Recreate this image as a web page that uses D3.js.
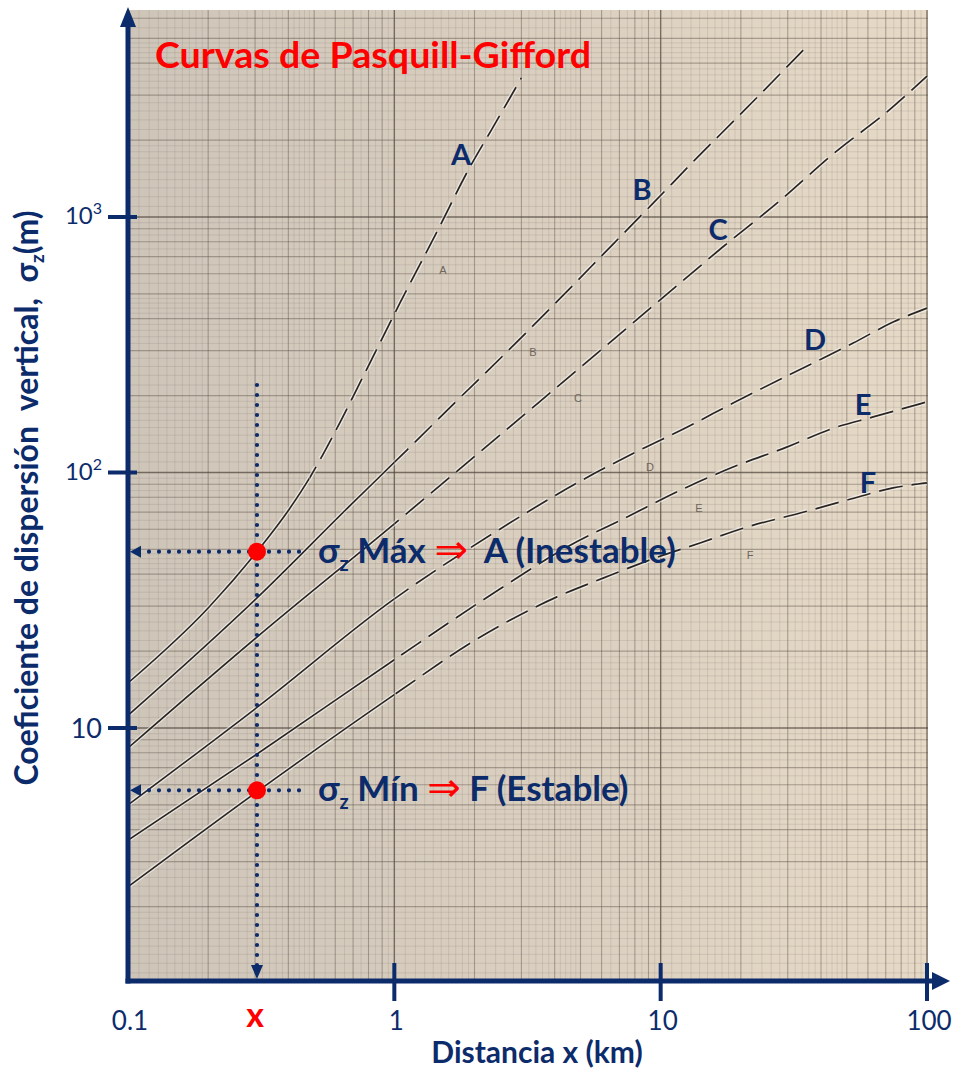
<!DOCTYPE html>
<html>
<head>
<meta charset="utf-8">
<script src="https://cdn.jsdelivr.net/npm/d3@7"></script>
<style>
  html, body { margin: 0; padding: 0; background: #fff; }
  svg { display: block; }
  text { font-family: Lato, "Open Sans", sans-serif; }
</style>
</head>
<body>
<div id="chart"></div>
<script>
// Pasquill-Gifford vertical dispersion curves
// each pair is [distance x (km), sigma z (m)]
const classes = ["A", "B", "C", "D", "E", "F"];
const sigmaA = [[0.1, 15], [0.2, 29.5], [0.305, 49], [0.4, 71], [0.48, 95], [0.59, 140], [0.79, 255],
  [1.05, 461], [1.44, 868], [1.92, 1565], [2.29, 2150], [3.0, 3500]];
const sigmaB = [[0.1, 11.2], [0.305, 32.3], [0.68, 74], [1.12, 123], [1.77, 197], [2.65, 297],
  [4.19, 480], [6.6, 780], [9.35, 1130], [13.5, 1680], [19.9, 2520], [28, 3620], [34.3, 4500]];
const sigmaC = [[0.1, 8.35], [0.305, 22.7], [1, 63], [2.29, 130], [4.08, 216], [7.87, 385],
  [12.4, 575], [17.1, 763], [27.4, 1135], [45.9, 1815], [70.8, 2580], [100, 3560]];
const sigmaD = [[0.1, 5.0], [0.31, 12.2], [1, 32], [2.49, 60], [4.85, 91], [8.37, 122.5],
  [12.6, 150.7], [18.7, 187], [37.3, 268], [52.8, 321], [74.6, 388], [100, 440]];
const sigmaE = [[0.1, 3.64], [0.31, 8.0], [1, 18.5], [2.49, 35], [4.45, 51.1], [7.48, 67],
  [12.6, 87.8], [18.7, 105], [29.9, 126], [44.4, 149], [62.8, 165], [100, 189]];
const sigmaF = [[0.1, 2.39], [0.31, 5.7], [1, 13.5], [2, 22], [4.08, 32.6], [6.08, 38.6], [9.12, 45.5],
  [14.06, 53], [21.1, 61.2], [33.4, 69.4], [50.1, 78], [74.6, 87], [100, 91]];
const series = [sigmaA, sigmaB, sigmaC, sigmaD, sigmaE, sigmaF];
// distance (km) up to which each curve is drawn solid, dashed beyond
const solidUpTo = [0.48, 1, 1, 1, 1, 1];

const xTicks = [0.1, 1, 10, 100];
const xTickLabels = ["0.1", "1", "10", "100"];
const yTicks = [10, 100, 1000];
const yTickLabels = [["10", ""], ["10", "2"], ["10", "3"]];

// the worked example: distance x, max (class A) and min (class F) sigma z
const markerX = 0.305;
const sigmaMax = 49;
const sigmaMin = 5.7;

const width = 954, height = 1072;
const navy = "#0c2b6b", red = "#ff0000", ink = "#2a2521";

const x = d3.scaleLog().domain([0.1, 100]).range([128, 927]);
const y = d3.scaleLog().domain([1, 1000]).range([983.5, 217]);

const paper = {left: 128, right: 928, top: 10, bottom: 982};

const svg = d3.select("#chart").append("svg")
  .attr("width", width)
  .attr("height", height)
  .attr("viewBox", [0, 0, width, height]);

const defs = svg.append("defs");
const grad = defs.append("linearGradient").attr("id", "paperGrad");
grad.append("stop").attr("offset", "0%").attr("stop-color", "#cec5b9");
grad.append("stop").attr("offset", "55%").attr("stop-color", "#dbd0c0");
grad.append("stop").attr("offset", "100%").attr("stop-color", "#e6d9c6");

defs.append("clipPath").attr("id", "paperClip")
  .append("rect")
  .attr("x", paper.left).attr("y", paper.top)
  .attr("width", paper.right - paper.left).attr("height", paper.bottom - paper.top);

// graph paper
svg.append("rect")
  .attr("x", paper.left).attr("y", paper.top)
  .attr("width", paper.right - paper.left).attr("height", paper.bottom - paper.top)
  .attr("fill", "url(#paperGrad)");

function decadeSteps(d) {
  const v = [];
  for (let i = 10; i < 20; i++) v.push({v: d * i / 10, k: i === 10 ? 2 : 0});
  for (let i = 20; i < 50; i += 2) v.push({v: d * i / 10, k: i % 10 === 0 ? 1 : 0});
  for (let i = 50; i < 100; i += 5) v.push({v: d * i / 10, k: i % 10 === 0 ? 1 : 0});
  return v;
}
const gridX = [0.1, 1, 10].flatMap(decadeSteps).concat([{v: 100, k: 2}]);
const gridY = [1, 10, 100, 1000].flatMap(decadeSteps).filter(d => y(d.v) >= paper.top);
const gridStroke = ["rgba(115,105,95,0.24)", "rgba(95,85,75,0.45)", "rgba(75,65,55,0.7)"];
const gridWidth = [0.7, 1.1, 1.4];

const grid = svg.append("g").attr("clip-path", "url(#paperClip)");
grid.selectAll(".gx").data(gridX).join("line")
  .attr("x1", d => x(d.v)).attr("x2", d => x(d.v))
  .attr("y1", paper.top).attr("y2", paper.bottom)
  .attr("stroke", d => gridStroke[d.k]).attr("stroke-width", d => gridWidth[d.k]);
grid.selectAll(".gy").data(gridY).join("line")
  .attr("y1", d => y(d.v)).attr("y2", d => y(d.v))
  .attr("x1", paper.left).attr("x2", paper.right)
  .attr("stroke", d => gridStroke[d.k]).attr("stroke-width", d => gridWidth[d.k]);

// faint class letters printed on the original chart
const oldLetters = [[443, 270], [533, 352], [578, 398], [650, 467], [699, 508], [750, 555]];
svg.append("g").selectAll("text").data(classes).join("text")
  .attr("x", (d, i) => oldLetters[i][0]).attr("y", (d, i) => oldLetters[i][1] + 4)
  .attr("text-anchor", "middle")
  .style("font-family", "'Liberation Sans', sans-serif")
  .attr("font-size", 11).attr("fill", "#6e655b")
  .text(d => d);

// curves
const line = d3.line()
  .x(d => x(d[0]))
  .y(d => y(d[1]))
  .curve(d3.curveMonotoneX);

const curves = svg.append("g").attr("clip-path", "url(#paperClip)");
series.forEach((pts, i) => {
  const cut = x(solidUpTo[i]);
  defs.append("clipPath").attr("id", "solid" + i)
    .append("rect").attr("x", 0).attr("y", 0).attr("width", cut).attr("height", height);
  defs.append("clipPath").attr("id", "dash" + i)
    .append("rect").attr("x", cut).attr("y", 0).attr("width", width - cut).attr("height", height);

  const gs = curves.append("g").attr("clip-path", `url(#solid${i})`);
  gs.append("path").attr("d", line(pts)).attr("fill", "none")
    .attr("stroke", "rgba(255,255,255,0.55)").attr("stroke-width", 4.2);
  gs.append("path").attr("d", line(pts)).attr("fill", "none")
    .attr("stroke", ink).attr("stroke-width", 1.6);

  const gd = curves.append("g").attr("clip-path", `url(#dash${i})`);
  gd.append("path").attr("d", line(pts)).attr("fill", "none")
    .attr("stroke", "rgba(255,255,255,0.55)").attr("stroke-width", 4.4)
    .attr("stroke-dasharray", "24 9");
  gd.append("path").attr("d", line(pts)).attr("fill", "none")
    .attr("stroke", ink).attr("stroke-width", 1.7)
    .attr("stroke-dasharray", "24 9");
});

// class labels
const labelAt = [[461, 165], [642, 200], [718, 240], [815, 350], [863, 415], [868, 493]];
svg.append("g").selectAll("text").data(classes).join("text")
  .attr("x", (d, i) => labelAt[i][0]).attr("y", (d, i) => labelAt[i][1])
  .attr("text-anchor", "middle")
  .attr("font-size", 29).attr("font-weight", "bold").attr("fill", navy)
  .text(d => d);

// axes
const axisY = 981;
svg.append("line").attr("x1", x(0.1)).attr("x2", x(0.1))
  .attr("y1", axisY + 2.5).attr("y2", 24)
  .attr("stroke", navy).attr("stroke-width", 5);
svg.append("path").attr("d", `M${x(0.1)},7 L${x(0.1) + 8},27 L${x(0.1) - 8},27 Z`).attr("fill", navy);
svg.append("line").attr("x1", x(0.1) - 2.5).attr("x2", 934)
  .attr("y1", axisY).attr("y2", axisY)
  .attr("stroke", navy).attr("stroke-width", 5);
svg.append("path").attr("d", `M950,${axisY} L932,${axisY - 9} L932,${axisY + 9} Z`).attr("fill", navy);

svg.append("g").selectAll("line").data(xTicks.slice(1)).join("line")
  .attr("x1", d => x(d)).attr("x2", d => x(d))
  .attr("y1", 963).attr("y2", 1001)
  .attr("stroke", navy).attr("stroke-width", 4);
svg.append("g").selectAll("line").data(yTicks).join("line")
  .attr("y1", d => y(d)).attr("y2", d => y(d))
  .attr("x1", 108).attr("x2", 137)
  .attr("stroke", navy).attr("stroke-width", 4);

svg.append("g").selectAll("text").data(xTicks).join("text")
  .attr("x", d => x(d) + 2).attr("y", 1030)
  .attr("text-anchor", "middle")
  .attr("font-size", 26).attr("fill", navy)
  .text((d, i) => xTickLabels[i]);

const yl = svg.append("g").selectAll("text").data(yTicks).join("text")
  .attr("x", 102)
  .attr("y", (d, i) => y(d) + (yTickLabels[i][1] ? 7 : 10))
  .attr("text-anchor", "end")
  .attr("font-size", (d, i) => yTickLabels[i][1] ? 24 : 27)
  .attr("fill", navy);
yl.append("tspan").text((d, i) => yTickLabels[i][0]);
yl.append("tspan").attr("font-size", 16).attr("dy", -10).text((d, i) => yTickLabels[i][1]);

svg.append("text")
  .attr("x", 537).attr("y", 1063)
  .attr("text-anchor", "middle")
  .attr("font-size", 30).attr("font-weight", "bold").attr("fill", navy)
  .text("Distancia x (km)");

svg.append("text")
  .attr("x", 255).attr("y", 1027)
  .attr("text-anchor", "middle")
  .attr("font-size", 34).attr("font-weight", "bold").attr("fill", red)
  .text("x");

const ylab = svg.append("text")
  .attr("transform", "translate(38,498) rotate(-90)")
  .attr("text-anchor", "middle")
  .style("white-space", "pre")
  .attr("font-size", 32).attr("font-weight", "bold").attr("fill", navy);
ylab.append("tspan").text("Coeficiente de dispersión  vertical,  σ");
ylab.append("tspan").attr("font-size", 19).attr("dy", 6).text("z");
ylab.append("tspan").attr("dy", -6).text("(m)");

svg.append("text")
  .attr("x", 155).attr("y", 68)
  .attr("font-size", 37).attr("font-weight", "bold").attr("fill", red)
  .attr("textLength", 436).attr("lengthAdjust", "spacingAndGlyphs")
  .text("Curvas de Pasquill-Gifford");

// worked example: dotted guides and points
const mx = x(markerX);
const dotted = svg.append("g")
  .attr("stroke", navy).attr("stroke-width", 4.2)
  .attr("stroke-linecap", "round").attr("stroke-dasharray", "0 10")
  .attr("fill", "none");
dotted.append("line").attr("x1", mx).attr("x2", mx).attr("y1", y(220)).attr("y2", 966);
[sigmaMax, sigmaMin].forEach(s => {
  dotted.append("line").attr("x1", 299).attr("x2", 143).attr("y1", y(s)).attr("y2", y(s));
  svg.append("path")
    .attr("d", `M${x(0.1) + 2},${y(s)} L${x(0.1) + 13},${y(s) - 6} L${x(0.1) + 13},${y(s) + 6} Z`)
    .attr("fill", navy);
});
svg.append("path").attr("d", `M${mx},979 L${mx - 6},965 L${mx + 6},965 Z`).attr("fill", navy);

svg.append("g").selectAll("circle").data([sigmaMax, sigmaMin]).join("circle")
  .attr("cx", mx).attr("cy", d => y(d)).attr("r", 9)
  .attr("fill", red);

function annotate(s, word, gap, cls, state) {
  const t = svg.append("text")
    .attr("x", 318).attr("y", y(s) + 11)
    .style("white-space", "pre")
    .attr("font-size", 35).attr("font-weight", "bold").attr("fill", navy);
  t.append("tspan").text("σ");
  t.append("tspan").attr("font-size", 20).attr("dy", 8).text("z");
  t.append("tspan").attr("dy", -8).text(" " + word + " ");
  t.append("tspan").attr("fill", red).attr("font-weight", "normal").attr("font-size", 40)
    .style("font-family", "'DejaVu Sans', sans-serif").text("⇒");
  t.append("tspan").text(gap + cls + " (" + state + ")");
}
annotate(sigmaMax, "Máx", "  ", "A", "Inestable");
annotate(sigmaMin, "Mín", " ", "F", "Estable");
</script>
</body>
</html>
